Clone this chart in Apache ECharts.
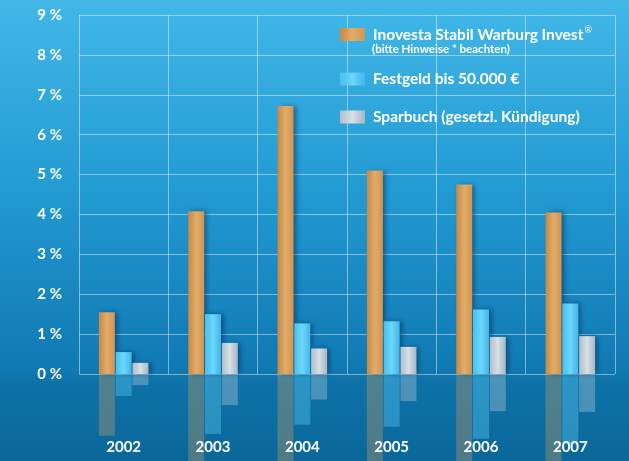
<!DOCTYPE html>
<html lang="de">
<head>
    <meta charset="UTF-8">
    <title>Renditevergleich</title>
    <script src="https://cdn.jsdelivr.net/npm/echarts@6/dist/echarts.min.js"></script>
    <style>
        html, body { margin: 0; padding: 0; }
        #chart { width: 629px; height: 461px; }
    </style>
</head>
<body>
    <div id="chart"></div>
    <script>
        // Daten
        var years = ['2002', '2003', '2004', '2005', '2006', '2007'];
        var inovesta = [1.55, 4.08, 6.72, 5.1, 4.75, 4.05];
        var festgeld = [0.55, 1.5, 1.27, 1.32, 1.62, 1.77];
        var sparbuch = [0.28, 0.78, 0.64, 0.68, 0.93, 0.95];
        var yTicks = [0, 1, 2, 3, 4, 5, 6, 7, 8, 9];

        var names = [
            'Inovesta Stabil Warburg Invest®',
            'Festgeld bis 50.000 €',
            'Sparbuch (gesetzl. Kündigung)'
        ];

        var font = 'Lato';
        var chart = echarts.init(document.getElementById('chart'));

        function hGrad(c0, c1, c2) {
            return new echarts.graphic.LinearGradient(0, 0, 1, 0, [
                { offset: 0, color: c0 },
                { offset: 0.5, color: c1 },
                { offset: 1, color: c2 }
            ]);
        }
        var colors = [
            hGrad('#c58847', '#e2ad68', '#cf9553'),
            hGrad('#46c0ef', '#6cd7fa', '#42b6e8'),
            hGrad('#aebfcc', '#d6e0e7', '#a6b7c4')
        ];
        var flatColors = ['#d9a05c', '#58cbf5', '#c2d0da'];
        var reflOpacity = [0.33, 0.4, 0.35];
        var dataSets = [inovesta, festgeld, sparbuch];

        var series = [];
        // eigentliche Balken
        for (var i = 0; i < 3; i++) {
            series.push({
                name: names[i],
                type: 'bar',
                xAxisIndex: 0,
                yAxisIndex: 0,
                barWidth: 16,
                barGap: '5%',
                data: dataSets[i],
                itemStyle: {
                    color: colors[i],
                    shadowColor: 'rgba(0,35,75,0.5)',
                    shadowBlur: 5,
                    shadowOffsetX: 3
                },
                z: 3
            });
        }
        // Spiegelung unter der Nulllinie
        for (var k = 0; k < 3; k++) {
            series.push({
                name: names[k] + ' ',
                type: 'bar',
                xAxisIndex: 1,
                yAxisIndex: 1,
                barWidth: 16,
                barGap: '5%',
                data: dataSets[k],
                silent: true,
                itemStyle: {
                    color: flatColors[k],
                    opacity: reflOpacity[k]
                },
                z: 2
            });
        }

        function legendAt(idx, top) {
            return {
                orient: 'vertical',
                left: 335,
                top: top,
                itemWidth: 25,
                itemHeight: 13,
                icon: 'rect',
                data: [names[idx]],
                selectedMode: false,
                formatter: function (n) {
                    if (n.slice(-1) === '®') {
                        return '{a|' + n.slice(0, -1) + '}{s|®}';
                    }
                    return '{a|' + n + '}';
                },
                textStyle: {
                    color: '#ffffff',
                    padding: [0, 0, 0, 3],
                    rich: {
                        a: {
                            color: '#ffffff',
                            fontFamily: font,
                            fontWeight: 'bold',
                            fontSize: 15.5
                        },
                        s: {
                            color: '#ffffff',
                            fontFamily: font,
                            fontSize: 9,
                            verticalAlign: 'bottom',
                            padding: [0, 0, 8, 1]
                        }
                    }
                }
            };
        }

        var option = {
            backgroundColor: new echarts.graphic.LinearGradient(0, 0, 0, 1, [
                { offset: 0, color: '#42b7e8' },
                { offset: 0.4, color: '#239bd3' },
                { offset: 0.8, color: '#1079b3' },
                { offset: 0.83, color: '#0d72a8' },
                { offset: 1, color: '#0b6799' }
            ]),
            animation: false,
            title: {
                text: '(bitte Hinweise * beachten)',
                left: 372,
                top: 43,
                padding: 0,
                textStyle: {
                    color: '#ffffff',
                    fontFamily: font,
                    fontWeight: 'bold',
                    fontSize: 11.5
                }
            },
            legend: [legendAt(0, 21), legendAt(1, 66), legendAt(2, 104)],
            grid: [
                { left: 79, right: 14, top: 15, bottom: 87 },
                { left: 79, right: 14, top: 374, bottom: 0 }
            ],
            xAxis: [
                {
                    type: 'category',
                    gridIndex: 0,
                    data: years,
                    axisLine: { show: false },
                    axisTick: { show: false },
                    axisLabel: { show: false },
                    splitLine: {
                        show: true,
                        lineStyle: { color: 'rgba(255,255,255,0.45)', width: 1 }
                    }
                },
                {
                    type: 'category',
                    gridIndex: 1,
                    data: years,
                    position: 'bottom',
                    z: 10,
                    axisLine: { show: false },
                    axisTick: { show: false },
                    splitLine: { show: false },
                    axisLabel: {
                        inside: true,
                        margin: 6,
                        color: '#ffffff',
                        fontFamily: font,
                        fontWeight: 'bold',
                        fontSize: 15
                    }
                }
            ],
            yAxis: [
                {
                    type: 'value',
                    gridIndex: 0,
                    min: yTicks[0],
                    max: yTicks[yTicks.length - 1],
                    interval: 1,
                    axisLine: { show: false },
                    axisTick: { show: false },
                    axisLabel: {
                        margin: 17,
                        color: '#ffffff',
                        fontFamily: font,
                        fontWeight: 'bold',
                        fontSize: 15,
                        formatter: '{value} %'
                    },
                    splitLine: {
                        lineStyle: { color: 'rgba(255,255,255,0.45)', width: 1 }
                    }
                },
                {
                    type: 'value',
                    gridIndex: 1,
                    inverse: true,
                    min: 0,
                    max: 87 / 39.9,
                    show: false,
                    splitLine: { show: false }
                }
            ],
            series: series
        };

        chart.setOption(option);
    </script>
</body>
</html>
